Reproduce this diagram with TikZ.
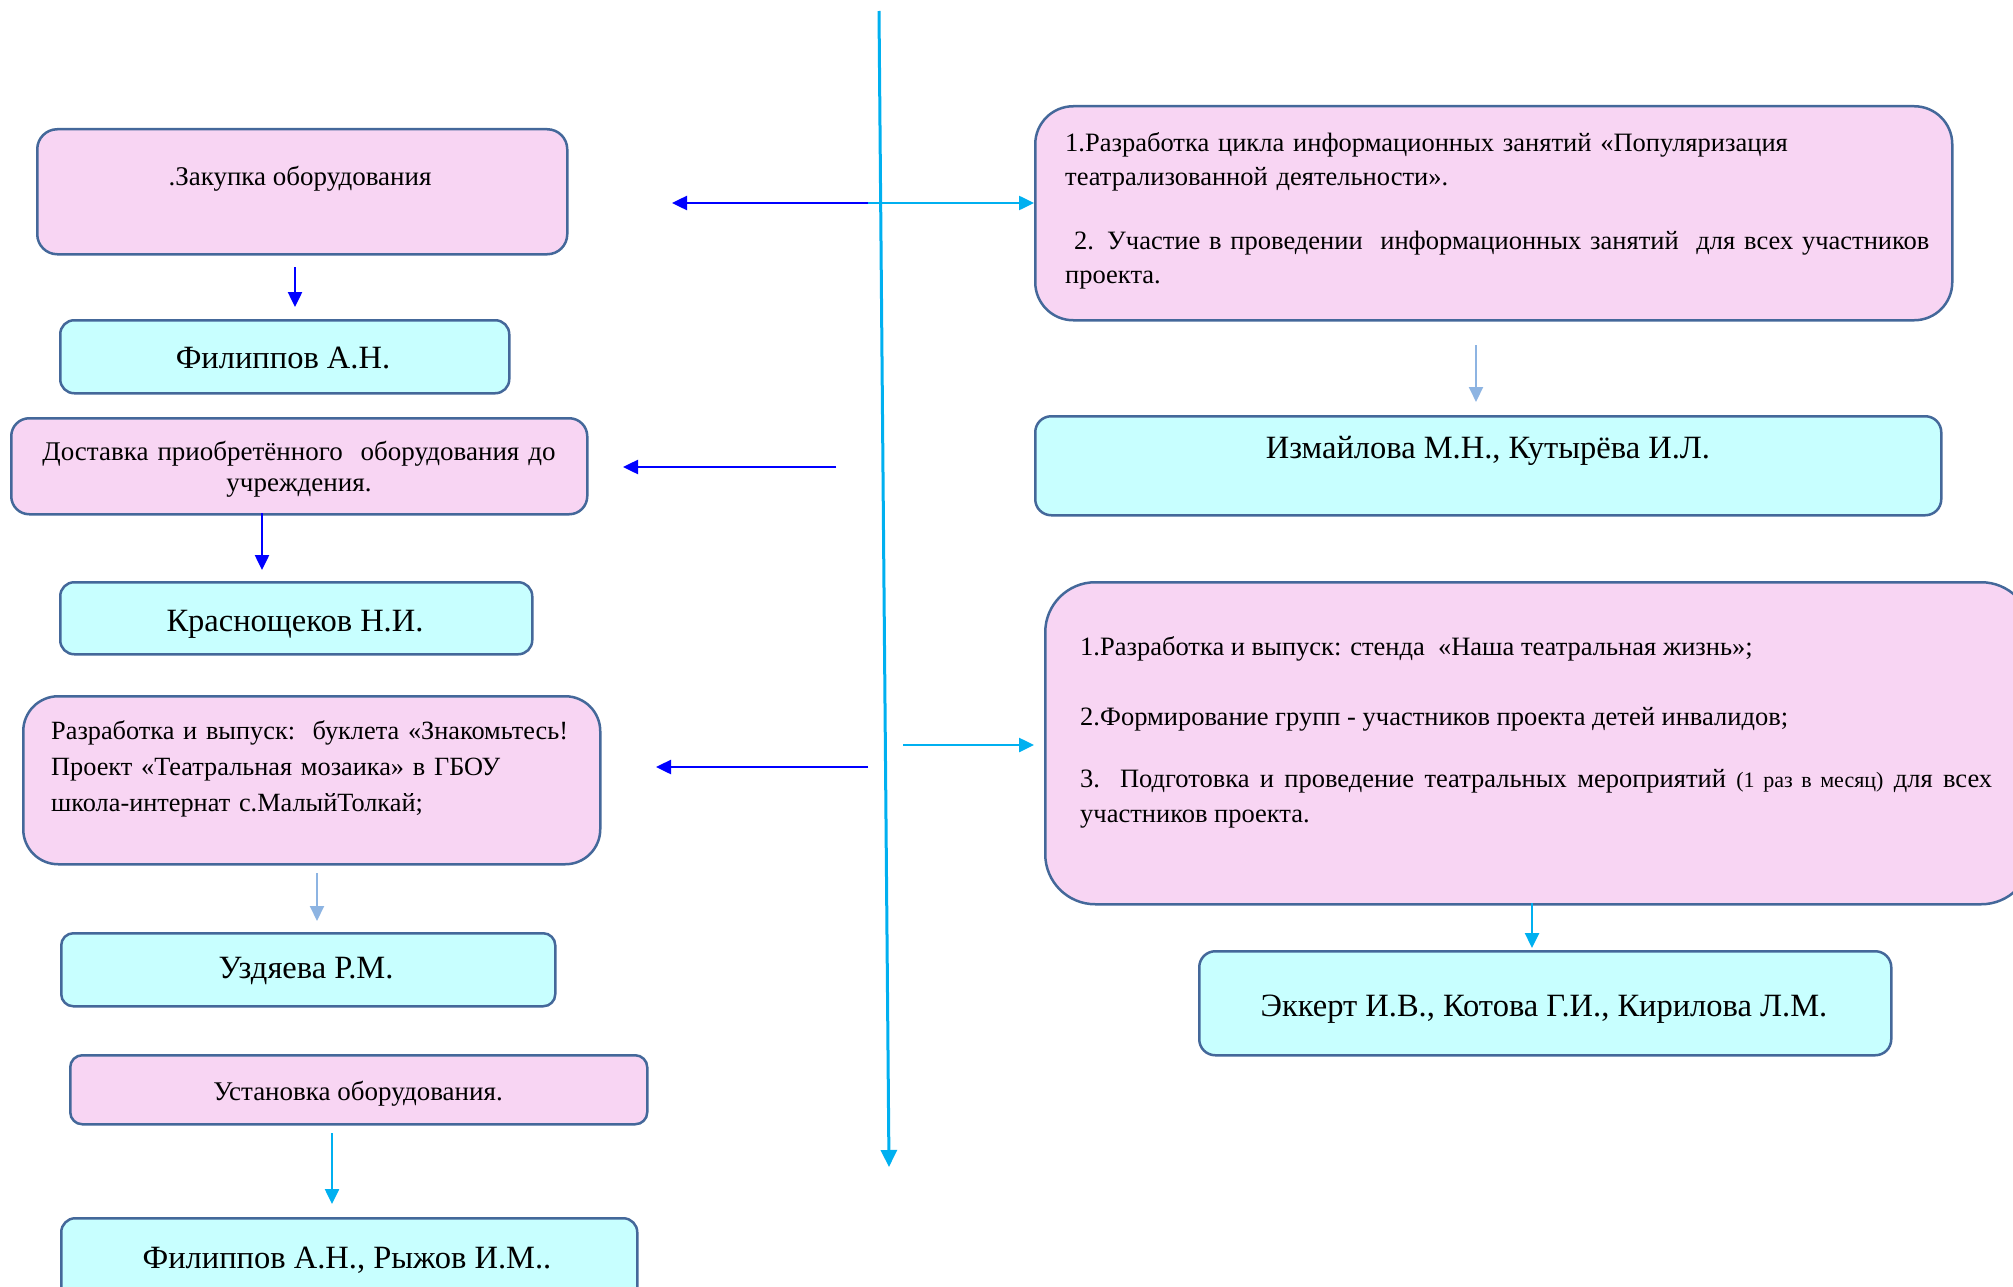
\documentclass[tikz,border=0pt]{standalone}
\usepackage{fontspec}
\setmainfont{Liberation Serif}
\usetikzlibrary{arrows.meta}
\definecolor{pinkf}{HTML}{F8D5F3}
\definecolor{cyanf}{HTML}{C8FFFF}
\definecolor{bord}{HTML}{44689A}
\definecolor{arrblue}{HTML}{0000FF}
\definecolor{arrcyan}{HTML}{00B0F0}
\definecolor{arrlight}{HTML}{8DB4E2}
\begin{document}
\begin{tikzpicture}[x=1pt,y=-1pt,
 box/.style={draw=bord, line width=2.5pt, inner sep=0pt, anchor=north west},
 pinkbox/.style={box, fill=pinkf},
 cyanbox/.style={box, fill=cyanf},
 body/.style={font=\fontsize{27}{35}\selectfont, inner sep=0pt, text=black},
 rbody/.style={font=\fontsize{26.5}{35}\selectfont, inner sep=0pt, text=black},
 pname/.style={font=\fontsize{32.5}{38}\selectfont, inner sep=0pt, text=black, anchor=base},
 tipstyle/.style={-{Triangle[length=15pt,width=14pt]}},
 bluearr/.style={tipstyle, draw=arrblue, fill=arrblue, line width=2.5pt},
 cyanarr/.style={tipstyle, draw=arrcyan, fill=arrcyan, line width=2.5pt},
 lightarr/.style={tipstyle, draw=arrlight, fill=arrlight, line width=2pt}
]
\useasboundingbox (0,0) rectangle (2013,1287);
\fill[white] (0,0) rectangle (2013,1287);

% left column boxes
\node[pinkbox, rounded corners=20pt, minimum width=530pt, minimum height=125pt] (b1) at (36,128) {};
\node[cyanbox, rounded corners=14pt, minimum width=449pt, minimum height=73pt] (n1) at (59,319) {};
\node[pinkbox, rounded corners=18pt, minimum width=576pt, minimum height=96pt] (b2) at (10,417) {};
\node[cyanbox, rounded corners=14pt, minimum width=472pt, minimum height=72pt] (n2) at (59,581) {};
\node[pinkbox, rounded corners=35pt, minimum width=577pt, minimum height=168pt] (b3) at (22,695) {};
\node[cyanbox, rounded corners=12pt, minimum width=494pt, minimum height=73pt] (n3) at (60,932) {};
\node[pinkbox, rounded corners=12pt, minimum width=577pt, minimum height=69pt] (b4) at (69,1054) {};
\node[cyanbox, rounded corners=14pt, minimum width=576pt, minimum height=83pt] (n4) at (60,1217) {};

% right column boxes
\node[pinkbox, rounded corners=38pt, minimum width=917pt, minimum height=214pt] (rb1) at (1034,105) {};
\node[cyanbox, rounded corners=16pt, minimum width=906pt, minimum height=99pt] (rn1) at (1034,415) {};
\node[pinkbox, rounded corners=50pt, minimum width=986pt, minimum height=322pt] (rb2) at (1044,581) {};
\node[cyanbox, rounded corners=16pt, minimum width=692pt, minimum height=104pt] (rn2) at (1198,950) {};

% texts
\node[body, anchor=base] (tb1) at (300,185) {.Закупка оборудования};
\node[pname] (tn1) at (283,368) {Филиппов А.Н.};
\node[body, font=\fontsize{27}{31}\selectfont, text width=570pt, align=center, anchor=base] (tb2) at (299,460) {Доставка приобретённого\ \ оборудования до\\учреждения.};
\node[pname] (tn2) at (295,631) {Краснощеков Н.И.};
\node[body, font=\fontsize{26.3}{36}\selectfont, text width=540pt, align=left, anchor=base west] (tb3) at (51,739) {Разработка и выпуск:\ \ буклета «Знакомьтесь!\\Проект «Театральная мозаика» в ГБОУ\\школа-интернат с.МалыйТолкай;};
\node[pname] (tn3) at (306,978) {Уздяева Р.М.};
\node[body, anchor=base] (tb4) at (358,1100) {Установка оборудования.};
\node[pname] (tn4) at (347,1268) {Филиппов А.Н., Рыжов И.М..};

\node[rbody, text width=880pt, align=left, anchor=base west] (trb1) at (1065,151) {1.Разработка цикла информационных занятий «Популяризация\\театрализованной деятельности».\\[28pt]\ 2. Участие в проведении\ \ информационных занятий\ \ для всех участников\\проекта.};
\node[pname] (trn1) at (1488,458) {Измайлова М.Н., Кутырёва И.Л.};
\node[rbody, text width=912pt, align=justify, anchor=base west] (trb2) at (1080,655) {1.Разработка и выпуск: стенда\ \ «Наша театральная жизнь»;\\[35pt]2.Формирование групп - участников проекта детей инвалидов;\\[27pt]3. Подготовка и проведение театральных мероприятий {\fontsize{22}{35}\selectfont(1 раз в месяц)} для всех\linebreak участников проекта.};
\node[pname] (trn2) at (1544,1016) {Эккерт И.В., Котова Г.И., Кирилова Л.М.};

% central axis
\coordinate (vtop) at (879,11);
\coordinate (vbot) at (889,1167);
\draw[cyanarr, line width=3pt, -{Triangle[length=17pt,width=16pt]}] (vtop) -- (vbot);

% horizontal arrows
\coordinate (h1) at (868,203);
\coordinate (h1l) at (672,203);
\draw[bluearr] (h1) -- (h1l);
\draw[cyanarr] (h1) -- (h1 -| rb1.west);
\coordinate (h2) at (836,467);
\coordinate (h2l) at (623,467);
\draw[bluearr] (h2) -- (h2l);
\coordinate (h3) at (868,767);
\coordinate (h3l) at (656,767);
\draw[bluearr] (h3) -- (h3l);
\coordinate (h4) at (903,745);
\coordinate (h4r) at (1034,745);
\draw[cyanarr] (h4) -- (h4r);

% vertical arrows
\coordinate (d1s) at (295,267); \coordinate (d1e) at (295,307);
\draw[bluearr] (d1s) -- (d1e);
\coordinate (d2s) at (262,513); \coordinate (d2e) at (262,570);
\draw[bluearr] (d2s) -- (d2e);
\coordinate (d3s) at (317,873); \coordinate (d3e) at (317,921);
\draw[lightarr] (d3s) -- (d3e);
\coordinate (d4s) at (332,1133); \coordinate (d4e) at (332,1204);
\draw[cyanarr] (d4s) -- (d4e);
\coordinate (d5s) at (1476,345); \coordinate (d5e) at (1476,402);
\draw[lightarr] (d5s) -- (d5e);
\coordinate (d6s) at (1532,903); \coordinate (d6e) at (1532,948);
\draw[cyanarr] (d6s) -- (d6e);
\end{tikzpicture}
\end{document}
